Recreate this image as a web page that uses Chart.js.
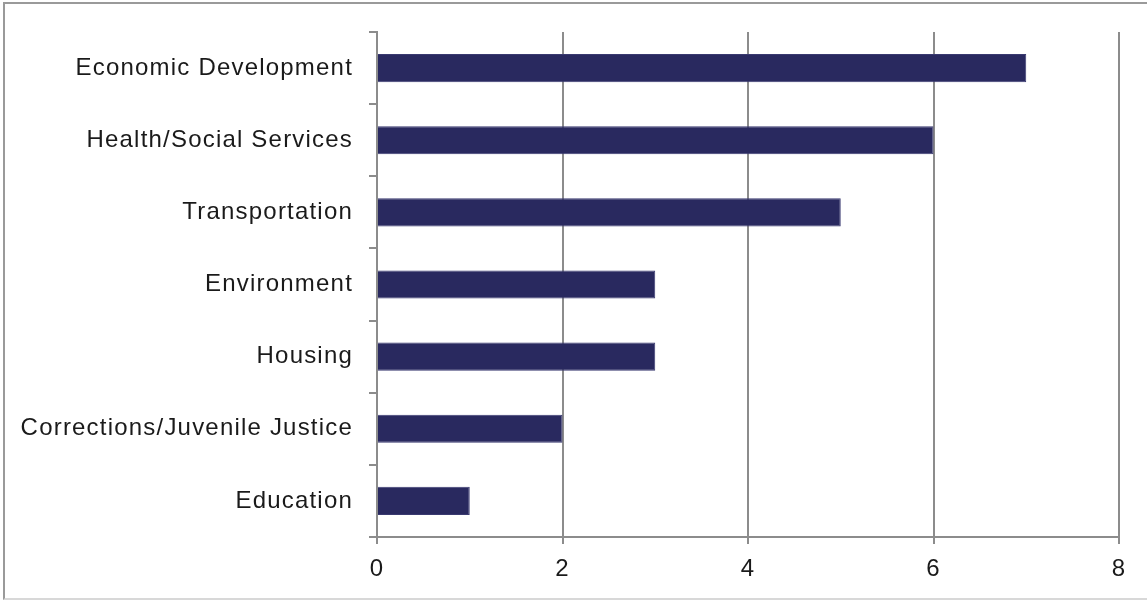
<!DOCTYPE html>
<html lang="en">
<head>
  <meta charset="UTF-8" />
  <title>Issue Areas</title>
  <script src="https://cdn.jsdelivr.net/npm/chart.js"></script>
  <style>
    body {
      margin: 0;
      background: white;
      font-family: 'Liberation Sans', Arial, sans-serif;
    }
    #wrap {
      position: relative;
      width: 1147px;
      height: 600px;
      overflow: hidden;
    }
    #frame {
      position: absolute;
      left: 3px;
      top: 2px;
      width: 1160px;
      height: 594px;
      border: 2px solid #9a9a9a;
      border-bottom-color: #d8d8d8;
      pointer-events: none;
    }
  </style>
</head>
<body>
  <div id="wrap">
    <canvas id="barChart" width="1147" height="600"></canvas>
    <div id="frame"></div>
  </div>

  <script>
    const categories = [
      'Economic Development',
      'Health/Social Services',
      'Transportation',
      'Environment',
      'Housing',
      'Corrections/Juvenile Justice',
      'Education'
    ];
    const counts = [7, 6, 5, 3, 3, 2, 1];
    const xTicks = [0, 2, 4, 6, 8];

    const ctx = document.getElementById('barChart').getContext('2d');

    // the original labels are slightly letter-spaced
    const spacing = {
      id: 'spacing',
      beforeInit: chart => { chart.ctx.letterSpacing = '1.2px'; },
      beforeDraw: chart => { chart.ctx.letterSpacing = '1.2px'; }
    };

    new Chart(ctx, {
      type: 'bar',
      data: {
        labels: categories,
        datasets: [{
          data: counts,
          backgroundColor: '#29295f',
          borderColor: '#3a3a70',
          borderWidth: 1,
          barPercentage: 0.39,
          categoryPercentage: 1.0
        }]
      },
      options: {
        indexAxis: 'y',
        responsive: false,
        animation: false,
        layout: { padding: { top: 32, right: 28, left: 0, bottom: 0 } },
        plugins: {
          legend: { display: false },
          tooltip: { enabled: false }
        },
        scales: {
          x: {
            min: 0,
            max: 8,
            afterBuildTicks: axis => { axis.ticks = xTicks.map(v => ({ value: v })); },
            grid: {
              color: '#8c8c8c',
              lineWidth: 2,
              tickLength: 7
            },
            border: { color: '#8c8c8c', width: 2 },
            ticks: {
              color: '#1a1a1a',
              font: { family: 'Liberation Sans', size: 24 },
              padding: 11
            },
            afterFit: axis => { axis.height = 63; }
          },
          y: {
            grid: {
              offset: true,
              drawOnChartArea: false,
              color: '#8c8c8c',
              lineWidth: 2,
              tickLength: 8
            },
            border: { color: '#8c8c8c', width: 2 },
            ticks: {
              color: '#1a1a1a',
              font: { family: 'Liberation Sans', size: 24 },
              padding: 16
            },
            afterFit: axis => { axis.width = 377; }
          }
        }
      },
      plugins: [spacing]
    });
  </script>
</body>
</html>
